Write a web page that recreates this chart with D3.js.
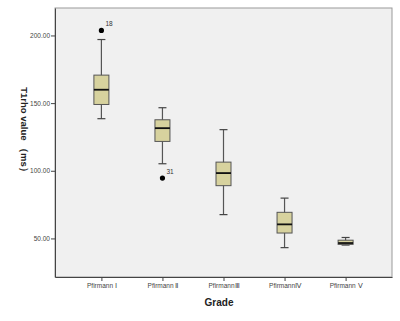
<!DOCTYPE html>
<html>
<head>
<meta charset="utf-8">
<script src="https://cdn.jsdelivr.net/npm/d3@7"></script>
<style>
  body { margin: 0; background: #fff; }
  text { font-family: "Liberation Sans", Arial, sans-serif; }
</style>
</head>
<body>
<div id="chart"></div>
<script>
// box plot stats
var grades = ["Pfirmann \u2160", "Pfirmann \u2161", "Pfirmann\u2162", "Pfirmann\u2163", "Pfirmann \u2164"];
var whiskerLow = [138.5, 105.2, 67.6, 43.2, 45.1];
var q1 = [149.0, 121.7, 89.0, 54.0, 45.6];
var median = [159.9, 131.5, 98.3, 60.4, 46.6];
var q3 = [170.7, 137.7, 106.4, 69.3, 48.7];
var whiskerHigh = [197.0, 146.6, 130.4, 79.8, 50.7];
var outlierGrade = ["Pfirmann \u2160", "Pfirmann \u2161"];
var outlierValue = [203.7, 94.6];
var outlierLabel = ["18", "31"];
var yTicks = [50, 100, 150, 200];

var W = 400, H = 321;
var margin = { top: 8, right: 8, bottom: 44, left: 55 };
var width = W - margin.left - margin.right;
var height = H - margin.top - margin.bottom;

var svg = d3.select("#chart").append("svg")
    .attr("width", W)
    .attr("height", H);

var g = svg.append("g")
    .attr("transform", "translate(" + margin.left + "," + margin.top + ")");

// plot background
g.append("rect")
    .attr("width", width)
    .attr("height", height)
    .attr("fill", "#f0f0f0")
    .attr("stroke", "#9a9a9a")
    .attr("stroke-width", 1);

var x = d3.scalePoint()
    .domain(grades)
    .range([0, width])
    .padding(0.76);

var y = d3.scaleLinear()
    .domain([21.5, 220.3])
    .range([height, 0]);

// axes
var yAxis = g.append("g")
    .call(d3.axisLeft(y).tickValues(yTicks).tickFormat(d3.format(".2f"))
        .tickSizeInner(4).tickSizeOuter(0).tickPadding(1));
yAxis.select(".domain").attr("stroke", "#444");
yAxis.selectAll(".tick line").attr("stroke", "#444");
yAxis.selectAll(".tick text").attr("font-size", 6.5).attr("fill", "#444");

var xAxis = g.append("g")
    .attr("transform", "translate(0," + height + ")")
    .call(d3.axisBottom(x).tickSizeInner(4).tickSizeOuter(0).tickPadding(2));
xAxis.select(".domain").attr("stroke", "#444");
xAxis.selectAll(".tick line").attr("stroke", "#444");
xAxis.selectAll(".tick text").attr("font-size", 6.5).attr("fill", "#444");

var boxW = 15, capW = 8;
var stats = grades.map(function (d, i) {
    return { name: d, lo: whiskerLow[i], q1: q1[i], med: median[i], q3: q3[i], hi: whiskerHigh[i] };
});

var boxes = g.selectAll(".box")
    .data(stats)
    .enter()
    .append("g")
    .attr("class", "box")
    .attr("transform", d => "translate(" + x(d.name) + ",0)");

// whisker stems
boxes.append("line")
    .attr("x1", 0).attr("x2", 0)
    .attr("y1", d => y(d.lo))
    .attr("y2", d => y(d.hi))
    .attr("stroke", "#555")
    .attr("stroke-width", 1.2);

// caps
boxes.selectAll(".cap")
    .data(d => [d.lo, d.hi])
    .enter()
    .append("line")
    .attr("x1", -capW / 2).attr("x2", capW / 2)
    .attr("y1", d => y(d)).attr("y2", d => y(d))
    .attr("stroke", "#444")
    .attr("stroke-width", 1.2);

boxes.append("rect")
    .attr("x", -boxW / 2)
    .attr("width", boxW)
    .attr("y", d => y(d.q3))
    .attr("height", d => y(d.q1) - y(d.q3))
    .attr("fill", "#d7d29e")
    .attr("stroke", "#555")
    .attr("stroke-width", 1);

boxes.append("line")
    .attr("x1", -boxW / 2).attr("x2", boxW / 2)
    .attr("y1", d => y(d.med)).attr("y2", d => y(d.med))
    .attr("stroke", "#111")
    .attr("stroke-width", 1.8);

// outliers
g.selectAll(".outlier")
    .data(outlierValue)
    .enter()
    .append("circle")
    .attr("cx", (d, i) => x(outlierGrade[i]))
    .attr("cy", d => y(d))
    .attr("r", 2.6)
    .attr("fill", "#000");

g.selectAll(".outlierLabel")
    .data(outlierValue)
    .enter()
    .append("text")
    .attr("x", (d, i) => x(outlierGrade[i]) + 4)
    .attr("y", d => y(d) - 4)
    .attr("font-size", 6.5)
    .attr("fill", "#333")
    .text((d, i) => outlierLabel[i]);

// axis titles
svg.append("text")
    .attr("x", 219)
    .attr("y", 306)
    .attr("text-anchor", "middle")
    .attr("font-size", 10)
    .attr("font-weight", "bold")
    .attr("fill", "#222")
    .text("Grade");

svg.append("text")
    .attr("transform", "translate(21,132) rotate(90)")
    .attr("text-anchor", "middle")
    .attr("font-size", 9.5)
    .attr("font-weight", "bold")
    .attr("fill", "#222")
    .text("T1rho value （ms）");
</script>
</body>
</html>
